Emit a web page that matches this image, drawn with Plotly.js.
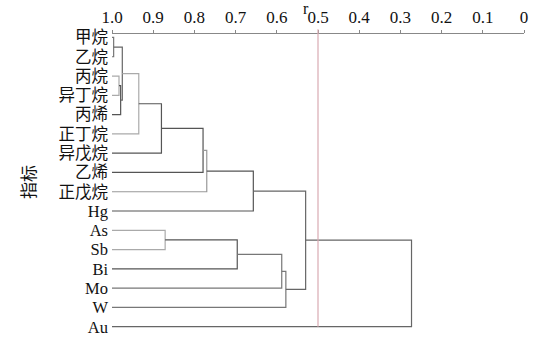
<!DOCTYPE html>
<html>
<head>
<meta charset="utf-8">
<script src="https://cdn.plot.ly/plotly-3.0.1.min.js"></script>
<style>html,body{margin:0;padding:0;background:#fff;}#chart{width:540px;height:341px;}</style>
</head>
<body>
<div id="chart"></div>
<script>
// Leaves (top to bottom)
const leaves = ['甲烷','乙烷','丙烷','异丁烷','丙烯','正丁烷','异戊烷','乙烯','正戊烷','Hg','As','Sb','Bi','Mo','W','Au'];
// Linkage: node ids 0..15 are leaves, merge k creates node 16+k
const linkA = [0, 2, 17, 16, 19, 20, 21, 22, 23, 10, 25, 26, 27, 24, 29];
const linkB = [1, 3, 4, 18, 5, 6, 7, 8, 9, 11, 12, 13, 14, 28, 15];
const linkR = [0.996, 0.983, 0.979, 0.975, 0.935, 0.880, 0.779, 0.770, 0.657, 0.871, 0.696, 0.588, 0.578, 0.530, 0.273];
const leafR = 1.0;
const threshold = 0.5;
const xTickVals = [1.0, 0.9, 0.8, 0.7, 0.6, 0.5, 0.4, 0.3, 0.2, 0.1, 0];
const xTickText = ['1.0', '0.9', '0.8', '0.7', '0.6', '0.5', '0.4', '0.3', '0.2', '0.1', '0'];

// styling only
const linkColors = ['#777','#aaa','#555','#666','#aaa','#555','#555','#999','#555','#aaa','#555','#777','#777','#666','#666'];

const px = [], py = [];
leaves.forEach((l, i) => { px.push(leafR); py.push(i); });
const traces = [];
linkR.forEach((r, k) => {
  const a = linkA[k], b = linkB[k];
  traces.push({
    type: 'scatter', mode: 'lines', hoverinfo: 'skip', showlegend: false,
    x: [px[a], r, r, px[b]],
    y: [py[a], py[a], py[b], py[b]],
    line: {color: linkColors[k], width: 1.2}
  });
  px.push(r); py.push((py[a] + py[b]) / 2);
});

const serif = 'Liberation Serif, Times New Roman, Noto Sans CJK SC, serif';
const layout = {
  width: 540, height: 341,
  margin: {l: 112, r: 16, t: 34, b: 11},
  paper_bgcolor: '#fff', plot_bgcolor: '#fff',
  showlegend: false,
  xaxis: {
    side: 'top', range: [1.0, 0], tickvals: xTickVals, ticktext: xTickText,
    showline: true, linecolor: '#888', linewidth: 1,
    ticks: 'outside', ticklen: 3, tickcolor: '#888',
    showgrid: false, zeroline: false,
    tickfont: {family: serif, size: 17, color: '#111'}
  },
  yaxis: {
    range: [15.17, -0.18], tickvals: leaves.map((l, i) => i), ticktext: leaves,
    ticks: '', showline: false, showgrid: false, zeroline: false,
    ticklabelstandoff: 3,
    tickfont: {family: serif, size: 16.5, color: '#111'},
    title: {text: '指标', font: {family: serif, size: 17, color: '#111'}, standoff: 18}
  },
  shapes: [{
    type: 'line', xref: 'x', yref: 'paper', x0: threshold, x1: threshold, y0: 0.011, y1: 1.016,
    line: {color: '#d9aab3', width: 1.2}
  }],
  annotations: [{
    text: 'r', xref: 'paper', yref: 'paper', x: 0.471, y: 1, yshift: 36,
    xanchor: 'center', yanchor: 'top', showarrow: false,
    font: {family: serif, size: 16, color: '#111'}
  }]
};
Plotly.newPlot('chart', traces, layout, {displayModeBar: false, staticPlot: true});
</script>
</body>
</html>
